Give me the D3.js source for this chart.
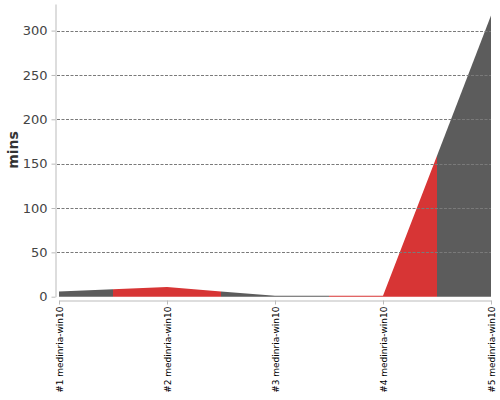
<!DOCTYPE html>
<html>
<head>
<meta charset="utf-8">
<script src="https://cdn.jsdelivr.net/npm/d3@7"></script>
<style>
body { margin: 0; background: #fff; }
svg { font-family: "DejaVu Sans", sans-serif; }
</style>
</head>
<body>
<svg id="chart" width="500" height="400"></svg>
<script>
"use strict";
// build runs and their durations
var builds = ["#1 medinria-win10", "#2 medinria-win10", "#3 medinria-win10", "#4 medinria-win10", "#5 medinria-win10"];
var mins = [6, 11, 1, 1, 317];
var yTicks = [0, 50, 100, 150, 200, 250, 300];
var segColors = ["#5c5c5c", "#d73535"];

var svg = d3.select("#chart");
var padLeft = 55, padTop = 4, plotBottom = 296.7, plotRight = 491;

var x = d3.scalePoint().domain(builds).range([59, plotRight]);
var y = d3.scaleLinear().domain([0, 330]).range([plotBottom, padTop]);

//value at fractional index (linear between builds)
function valAt(t) {
	var i = Math.floor(t), f = t - i;
	if (i >= mins.length - 1) return mins[mins.length - 1];
	return mins[i] + (mins[i + 1] - mins[i]) * f;
}
function xAt(t) {
	var i = Math.floor(t), f = t - i;
	if (i >= builds.length - 1) return x(builds[builds.length - 1]);
	return x(builds[i]) + (x(builds[i + 1]) - x(builds[i])) * f;
}

//each build gets the area half way to its neighbours, colours alternate
var segs = builds.map(function(b, i) {
	var t0 = Math.max(i - 0.5, 0), t1 = Math.min(i + 0.5, builds.length - 1);
	var pts = [t0, i, t1].filter(function(t, k, a) { return a.indexOf(t) == k; });
	return {i: i, pts: pts.map(function(t) { return {x: xAt(t), v: valAt(t)}; })};
});

var area = d3.area()
	.x(function(d) { return d.x; })
	.y0(y(0))
	.y1(function(d) { return y(d.v); });

svg.append("g").selectAll("path").data(segs).enter().append("path")
	.attr("d", function(d) { return area(d.pts); })
	.attr("fill", function(d) { return segColors[d.i % 2]; });

// grid lines on top
svg.append("g").selectAll("line").data(yTicks.filter(function(t) { return t > 0; })).enter().append("line")
	.attr("x1", padLeft + 2).attr("x2", plotRight)
	.attr("y1", function(d) { return Math.round(y(d)) + 0.5; })
	.attr("y2", function(d) { return Math.round(y(d)) + 0.5; })
	.style("stroke", "#7a7a7a")
	.style("stroke-width", 1)
	.style("stroke-dasharray", "3,1.5");

// y axis
var yAxis = svg.append("g")
	.attr("transform", "translate(" + (padLeft + 0.5) + ",0)")
	.call(d3.axisLeft(y).tickValues(yTicks).tickSize(4).tickPadding(4).tickSizeOuter(0))
	.attr("font-family", "DejaVu Sans");
yAxis.select(".domain").style("stroke", "#bbb");
yAxis.selectAll(".tick line").style("stroke", "#bbb");
yAxis.selectAll(".tick text").style("font-size", "13px").style("fill", "#444");

svg.append("text")
	.attr("transform", "translate(18,150) rotate(-90)")
	.attr("text-anchor", "middle")
	.style("font-size", "14px")
	.style("font-weight", "bold")
	.style("fill", "#333")
	.text("mins");

// x axis
var xAxis = svg.append("g")
	.attr("transform", "translate(0,300.5)")
	.call(d3.axisBottom(x).tickSize(4).tickSizeOuter(0))
	.attr("font-family", "DejaVu Sans");
xAxis.select(".domain").style("stroke", "#bbb");
xAxis.selectAll(".tick line").style("stroke", "#bbb");
xAxis.selectAll(".tick text")
	.style("font-size", "9px")
	.style("fill", "#000")
	.attr("text-anchor", "end")
	.attr("transform", "rotate(-90)")
	.attr("x", -6)
	.attr("y", 0)
	.attr("dy", "0.35em");
</script>
</body>
</html>
